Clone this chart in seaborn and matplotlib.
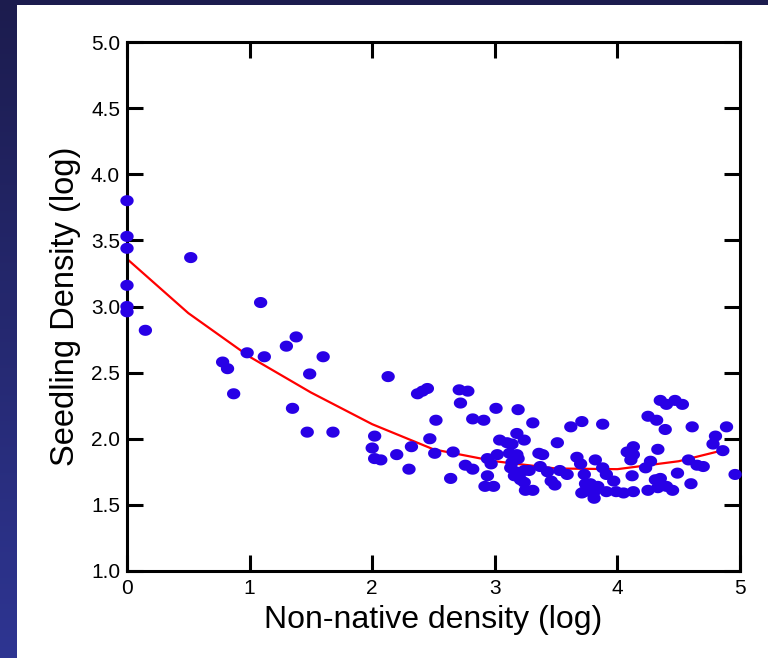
import numpy as np
import pandas as pd
import matplotlib
matplotlib.use("Agg")
import matplotlib.pyplot as plt
from matplotlib.path import Path
from matplotlib.colors import LinearSegmentedColormap
import seaborn as sns

# ---- data ----
nonnative = [
    0, 0, 0, 0, 0, 0,
    0.15, 0.52, 0.78, 0.82, 0.87, 0.98, 1.09, 1.12, 1.30, 1.38, 1.35, 1.49, 1.47, 1.60, 1.68,
    2.13, 2.37, 2.41, 2.45, 2.71, 2.78, 2.72, 2.52, 2.82, 2.91, 2.02, 2.00, 2.02, 2.07, 2.20,
    2.32, 2.30, 2.47, 2.51, 2.66, 2.76, 2.82, 2.64, 2.94, 2.94, 2.92, 2.99, 2.97,
    3.01, 3.19, 3.31, 3.62, 3.71, 3.88, 3.18, 3.04, 3.10, 3.14, 3.24, 3.51, 3.12, 3.18, 3.36,
    3.02, 3.13, 3.16, 3.21, 3.24, 3.25, 3.31, 3.37, 3.46, 3.53, 3.59, 3.67, 3.70, 3.73, 3.74,
    3.71, 3.80, 3.82, 3.84, 3.19, 3.14, 3.17, 3.24, 3.39, 3.43, 3.49, 3.28,
    4.35, 4.40, 4.47, 4.53, 4.25, 4.32, 4.39, 4.61, 4.89, 4.80, 4.78, 4.86, 4.96, 4.13, 4.08,
    4.13, 4.33, 4.11, 4.27, 4.23, 4.58, 4.65, 4.49, 4.12, 4.31, 4.35, 4.60, 4.70, 3.88, 3.91,
    3.97, 3.78, 3.73, 3.81, 3.91, 3.99, 4.05, 4.13, 3.81, 4.25, 4.33, 4.40, 4.45,
]
seedling = [
    3.80, 3.53, 3.44, 3.16, 3.00, 2.96,
    2.82, 3.37, 2.58, 2.53, 2.34, 2.65, 3.03, 2.62, 2.70, 2.77, 2.23, 2.49, 2.05, 2.62, 2.05,
    2.47, 2.34, 2.36, 2.38, 2.37, 2.36, 2.27, 2.14, 2.15, 2.14, 2.02, 1.93, 1.85, 1.84, 1.88,
    1.94, 1.77, 2.00, 1.89, 1.90, 1.80, 1.77, 1.70, 1.85, 1.72, 1.64, 1.64, 1.81,
    2.23, 2.22, 2.12, 2.09, 2.13, 2.11, 2.04, 1.99, 1.97, 1.96, 1.99, 1.97, 1.89, 1.88, 1.89,
    1.88, 1.78, 1.72, 1.69, 1.76, 1.61, 1.61, 1.79, 1.68, 1.76, 1.73, 1.86, 1.81, 1.73, 1.66,
    1.59, 1.59, 1.84, 1.64, 1.85, 1.82, 1.75, 1.67, 1.88, 1.75, 1.65, 1.76,
    2.29, 2.26, 2.29, 2.26, 2.17, 2.14, 2.07, 2.09, 2.09, 2.02, 1.96, 1.91, 1.73, 1.94, 1.90,
    1.88, 1.92, 1.84, 1.83, 1.78, 1.84, 1.80, 1.74, 1.72, 1.69, 1.70, 1.66, 1.79, 1.78, 1.73,
    1.68, 1.66, 1.60, 1.60, 1.60, 1.60, 1.59, 1.60, 1.55, 1.61, 1.63, 1.64, 1.61,
]
# fitted curve
curve_x = [0.0, 0.5, 1.0, 1.5, 2.0, 2.5, 3.0, 3.5, 4.0, 4.5, 4.87]
curve_y = [3.36, 2.95, 2.62, 2.35, 2.11, 1.92, 1.83, 1.775, 1.77, 1.83, 1.915]

x_ticks = [0, 1, 2, 3, 4, 5]
y_ticks = [1.0, 1.5, 2.0, 2.5, 3.0, 3.5, 4.0, 4.5, 5.0]
x_label = "Non-native density (log)"
y_label = "Seedling Density (log)"

pts = pd.DataFrame({"x": nonnative, "y": seedling})
fit = pd.DataFrame({"x": curve_x, "y": curve_y})

sns.set_theme(style="white")
plt.rcParams["font.family"] = ["Liberation Sans", "DejaVu Sans"]

W, H = 768, 658
fig = plt.figure(figsize=(W / 100, H / 100), dpi=100)
fig.patch.set_facecolor("white")

# dark frame strips (left gradient and top bar)
strip = fig.add_axes([0, 0, 17 / W, 1])
grad = np.linspace(0, 1, 256).reshape(-1, 1)
cmap = LinearSegmentedColormap.from_list("frame", ["#1c1c4e", "#2e3592"])
strip.imshow(grad, aspect="auto", cmap=cmap, origin="upper", extent=[0, 1, 0, 1])
strip.set_axis_off()
top = fig.add_axes([0, 1 - 5 / H, 1, 5 / H])
top.set_facecolor("#1c1c4e")
top.set_xticks([]); top.set_yticks([])
for s in top.spines.values():
    s.set_visible(False)

ax = fig.add_axes([127 / W, 1 - 571 / H, (740 - 127) / W, (571 - 42) / H])
ax.set_facecolor("white")

# slightly wide elliptical marker
t = np.linspace(0, 2 * np.pi, 60)
ellipse = Path(np.column_stack([1.2 * np.cos(t), 1.0 * np.sin(t)]), closed=True)

sns.lineplot(data=fit, x="x", y="y", ax=ax, color="#ff0000", linewidth=1.6,
             zorder=2, estimator=None, sort=True)
sns.scatterplot(data=pts, x="x", y="y", ax=ax, color="#2800e6", s=92, marker=ellipse,
                edgecolor="none", linewidth=0, zorder=3, clip_on=False)

ax.set_xlim(0, 5)
ax.set_ylim(1.0, 5.0)
ax.set_xticks(x_ticks)
ax.set_xticklabels([str(v) for v in x_ticks])
ax.set_yticks(y_ticks)
ax.set_yticklabels([f"{v:.1f}" for v in y_ticks])

for s in ax.spines.values():
    s.set_visible(True)
    s.set_color("black")
    s.set_linewidth(2.2)

ax.tick_params(axis="both", which="major", direction="in", length=11.5, width=2.2,
               color="black", labelsize=15, labelcolor="black",
               top=True, right=True, bottom=True, left=True)
ax.tick_params(axis="x", pad=6)
ax.tick_params(axis="y", pad=5)

ax.set_xlabel(x_label, fontsize=23, color="black", labelpad=5)
ax.set_ylabel(y_label, fontsize=23.5, color="black", labelpad=7)

fig.savefig("out.png", dpi=100, facecolor=fig.get_facecolor())
